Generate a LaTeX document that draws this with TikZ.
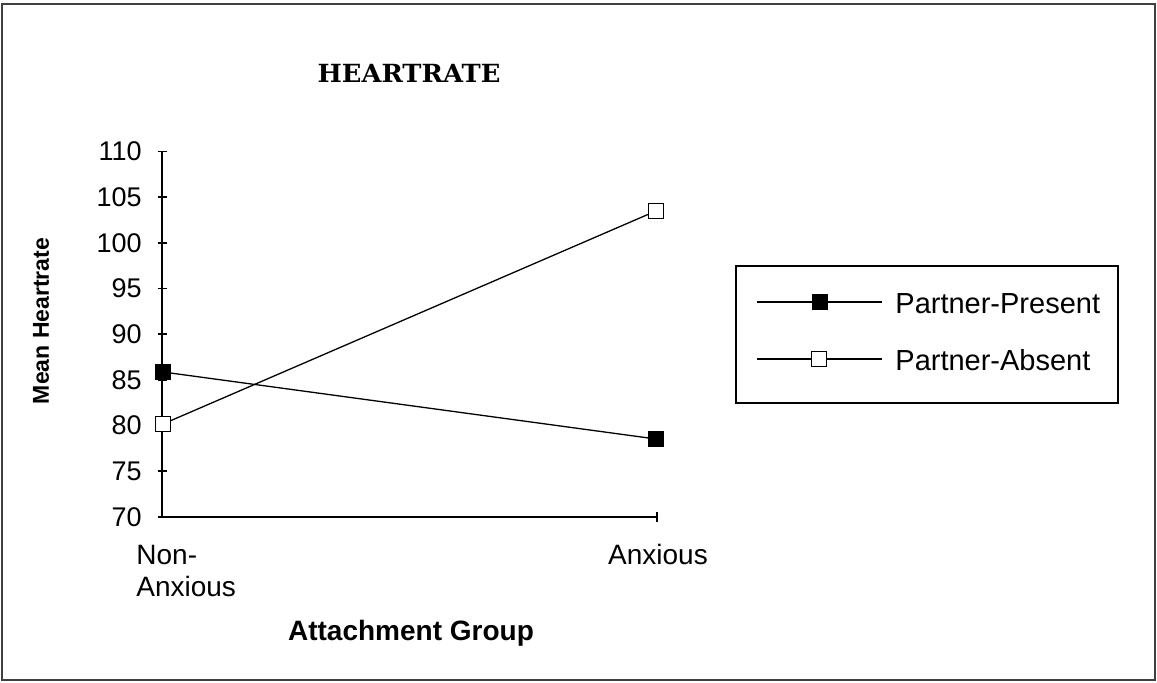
\documentclass[tikz,border=0pt]{standalone}
\usepackage{fontspec}
\setmainfont{Liberation Sans}
\newfontfamily\titlefont{DejaVu Serif}
\tikzset{
  present/.style={draw=black, fill=black, minimum size=7.5pt, inner sep=0pt},
  absent/.style={draw=black, fill=white, minimum size=7.5pt, inner sep=0pt, line width=0.6pt},
  ticklabel/.style={anchor=east, inner sep=0pt, font=\fontsize{13.5}{15}\selectfont},
  catlabel/.style={inner sep=0pt, font=\fontsize{14}{16}\selectfont},
  legendtext/.style={anchor=base west, inner sep=0pt, font=\fontsize{14.5}{16}\selectfont},
  series/.style={line width=0.65pt},
  axis/.style={line width=0.85pt}
}
\begin{document}
\begin{tikzpicture}[x=0.5pt,y=-0.5pt]
\useasboundingbox (0,0) rectangle (1157,683);
\draw[black!75, line width=1pt] (2,4) rectangle (1155,680);

\node[anchor=base, inner sep=0pt] (title) at (409,83) {\scalebox{1.03}[1]{\titlefont\bfseries\fontsize{12.5}{12.5}\selectfont HEARTRATE}};

% axes
\draw[axis] (162,151.5) -- (162,517) -- (657,517);
\foreach \v in {70,75,...,110} {
  \draw[axis] (157.5,{517-(\v-70)*9.14}) -- (166.5,{517-(\v-70)*9.14});
  \node[ticklabel] (t\v) at (142,{517-(\v-70)*9.14}) {\v};
}
\draw[axis] (657,512) -- (657,522);

\node[catlabel, align=left, anchor=north west] (nonanx) at (136,545) {Non-\\Anxious};
\node[catlabel, anchor=base] (anx) at (658,565) {Anxious};
\node[font=\bfseries\fontsize{14}{16}\selectfont, anchor=base] (xtitle) at (411,641) {Attachment Group};
\node[font=\bfseries\fontsize{11.5}{14}\selectfont, rotate=90] (ytitle) at (41,321) {Mean Heartrate};

% data
\node[present] (pna) at (163,372) {};
\node[present] (pa) at (656,439) {};
\node[absent] (ana) at (163,424) {};
\node[absent] (aa) at (656,211) {};
\draw[series] (pna) -- (pa);
\draw[series] (ana) -- (aa);

% legend
\draw[line width=0.75pt] (736,266) rectangle (1118,403);
\coordinate (l1a) at (757,302); \coordinate (l1b) at (882,302);
\coordinate (l2a) at (757,359); \coordinate (l2b) at (882,359);
\draw[series] (l1a) -- (l1b);
\draw[series] (l2a) -- (l2b);
\node[present] (lp) at (820,302) {};
\node[absent] (la) at (819,359) {};
\node[legendtext] (lptext) at (895,314) {Partner-Present};
\node[legendtext] (latext) at (895,371) {Partner-Absent};
\end{tikzpicture}
\end{document}
